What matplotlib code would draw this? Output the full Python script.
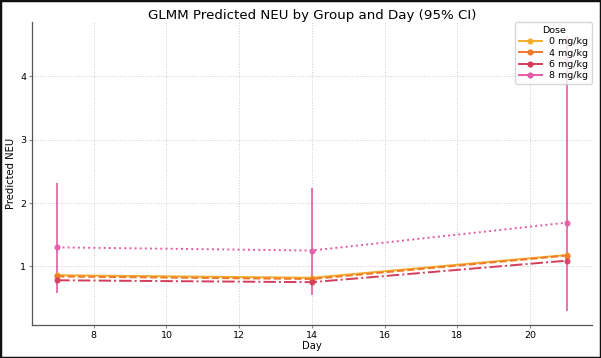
import matplotlib
matplotlib.use("Agg")
import matplotlib.pyplot as plt
from matplotlib.lines import Line2D
from matplotlib.patches import Rectangle

days = [7, 14, 21]
doses = ["0 mg/kg", "4 mg/kg", "6 mg/kg", "8 mg/kg"]
pred_0 = [0.86, 0.82, 1.18]
pred_4 = [0.84, 0.80, 1.17]
pred_6 = [0.78, 0.75, 1.09]
pred_8 = [1.30, 1.25, 1.69]
lo_0 = [0.82, 0.78, 1.13]
hi_0 = [0.90, 0.86, 1.23]
lo_4 = [0.80, 0.76, 1.12]
hi_4 = [0.88, 0.84, 1.22]
lo_6 = [0.74, 0.71, 1.04]
hi_6 = [0.82, 0.79, 1.14]
lo_8 = [0.58, 0.54, 0.29]
hi_8 = [2.32, 2.24, 4.64]

preds = [pred_0, pred_4, pred_6, pred_8]
los = [lo_0, lo_4, lo_6, lo_8]
his = [hi_0, hi_4, hi_6, hi_8]
colors = ["#f2ad2e", "#f07a2a", "#d33e5c", "#e45aa6"]
styles = ["-", "--", "-.", ":"]

fig = plt.figure(figsize=(6.01, 3.58), dpi=100)
ax = fig.add_axes([0.053, 0.092, 0.932, 0.846])

for p, lo, hi, c, ls in zip(preds, los, his, colors, styles):
    yerr = [[pv - l for pv, l in zip(p, lo)], [h - pv for pv, h in zip(p, hi)]]
    ax.errorbar(days, p, yerr=yerr, fmt="o", color=c, markersize=3.4,
                elinewidth=1.4, capsize=0, alpha=0.85, zorder=3)
    ax.plot(days, p, linestyle=ls, color=c, linewidth=1.4, zorder=3)

ax.grid(True, linestyle=":", color="#cccccc", linewidth=0.7)
ax.set_axisbelow(True)
for s in ["top", "right"]:
    ax.spines[s].set_visible(False)
for s in ["left", "bottom"]:
    ax.spines[s].set_color("#555555")
    ax.spines[s].set_linewidth(0.9)
ax.tick_params(labelsize=6.8, length=2.5, pad=1.5, color="#888888")
ax.set_xticks([8, 10, 12, 14, 16, 18, 20])
ax.set_yticks([1, 2, 3, 4])
ax.set_xlabel("Day", fontsize=7.2, labelpad=1)
ax.set_ylabel("Predicted NEU", fontsize=7.2, labelpad=3)
ax.set_title("GLMM Predicted NEU by Group and Day (95% CI)", fontsize=9.6, pad=2)

handles = [Line2D([0], [0], color=c, marker="o", markersize=3.4, linewidth=1.4)
           for c in colors]
leg = ax.legend(handles, doses, title="Dose", loc="upper right", fontsize=6.8,
                title_fontsize=6.8, frameon=True, borderaxespad=0.0,
                handlelength=2.4, labelspacing=0.25, borderpad=0.4)
leg.get_frame().set_edgecolor("#cccccc")
leg.set_zorder(5)

fig.add_artist(Rectangle((0, 0), 1, 1, transform=fig.transFigure, fill=False,
                         edgecolor="#111111", linewidth=2.5))

fig.savefig("out.png", dpi=100)
